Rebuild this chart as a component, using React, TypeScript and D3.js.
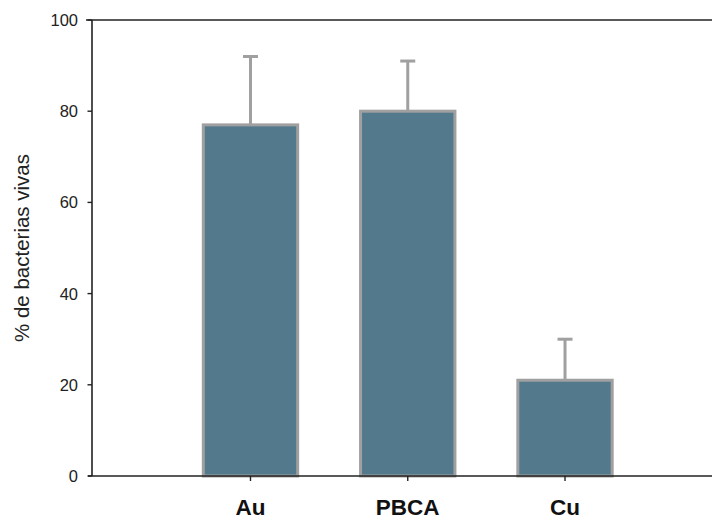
import React from "react";
import * as d3 from "d3";

const categories = ["Au", "PBCA", "Cu"];
const values = [77, 80, 21];
const errorTops = [92, 91, 30];
const yTicks = [0, 20, 40, 60, 80, 100];
const yTitle = "% de bacterias vivas";

const W = 712;
const H = 520;
const left = 92;
const right = 712;
const top = 20;
const bottom = 476;

export default function App() {
  const y = d3.scaleLinear().domain([0, 100]).range([bottom, top]);
  const x = d3
    .scaleBand<string>()
    .domain(categories)
    .range([140.4, 675.1])
    .paddingInner(0.4)
    .paddingOuter(0.4);
  const bw = x.bandwidth();
  const axisColor = "#222";
  const gray = "#a0a0a0";
  const fill = "#527a8c";
  const font = "Liberation Sans, Arial, sans-serif";

  return (
    <svg
      width={W}
      height={H}
      style={{ position: "absolute", left: 0, top: 0, display: "block", background: "#fff" }}
    >
      {categories.map((c, i) => {
        const x0 = x(c)!;
        const cx = x0 + bw / 2;
        return (
          <g key={c}>
            <line
              x1={cx}
              x2={cx}
              y1={y(values[i])}
              y2={y(errorTops[i])}
              stroke={gray}
              strokeWidth={3}
            />
            <line
              x1={cx - 7.5}
              x2={cx + 7.5}
              y1={y(errorTops[i])}
              y2={y(errorTops[i])}
              stroke={gray}
              strokeWidth={3}
            />
            <rect
              x={x0}
              y={y(values[i])}
              width={bw}
              height={y(0) - y(values[i])}
              fill={fill}
              stroke={gray}
              strokeWidth={3}
            />
          </g>
        );
      })}
      <line x1={left - 6} x2={right} y1={top} y2={top} stroke={axisColor} strokeWidth={1.6} />
      <line x1={left - 4} x2={right} y1={bottom} y2={bottom} stroke={axisColor} strokeWidth={1.6} />
      <line x1={left} x2={left} y1={top} y2={bottom} stroke={axisColor} strokeWidth={1.6} />
      {yTicks.map((t) => (
        <g key={t}>
          <line x1={left - 4.5} x2={left} y1={y(t)} y2={y(t)} stroke={axisColor} strokeWidth={1.4} />
          <text
            x={left - 14}
            y={y(t)}
            dy="0.36em"
            textAnchor="end"
            fontFamily={font}
            fontSize={16.5}
            fill="#222"
          >
            {t}
          </text>
        </g>
      ))}
      {categories.map((c) => {
        const cx = x(c)! + bw / 2;
        return (
          <g key={c}>
            <line x1={cx} x2={cx} y1={bottom} y2={bottom + 5} stroke={axisColor} strokeWidth={1.4} />
            <text
              x={cx}
              y={515}
              textAnchor="middle"
              fontFamily={font}
              fontSize={22.5}
              fontWeight="bold"
              fill="#111"
            >
              {c}
            </text>
          </g>
        );
      })}
      <text
        transform={`translate(29,${(top + bottom) / 2}) rotate(-90)`}
        textAnchor="middle"
        fontFamily={font}
        fontSize={20.5}
        fill="#222"
      >
        {yTitle}
      </text>
    </svg>
  );
}
